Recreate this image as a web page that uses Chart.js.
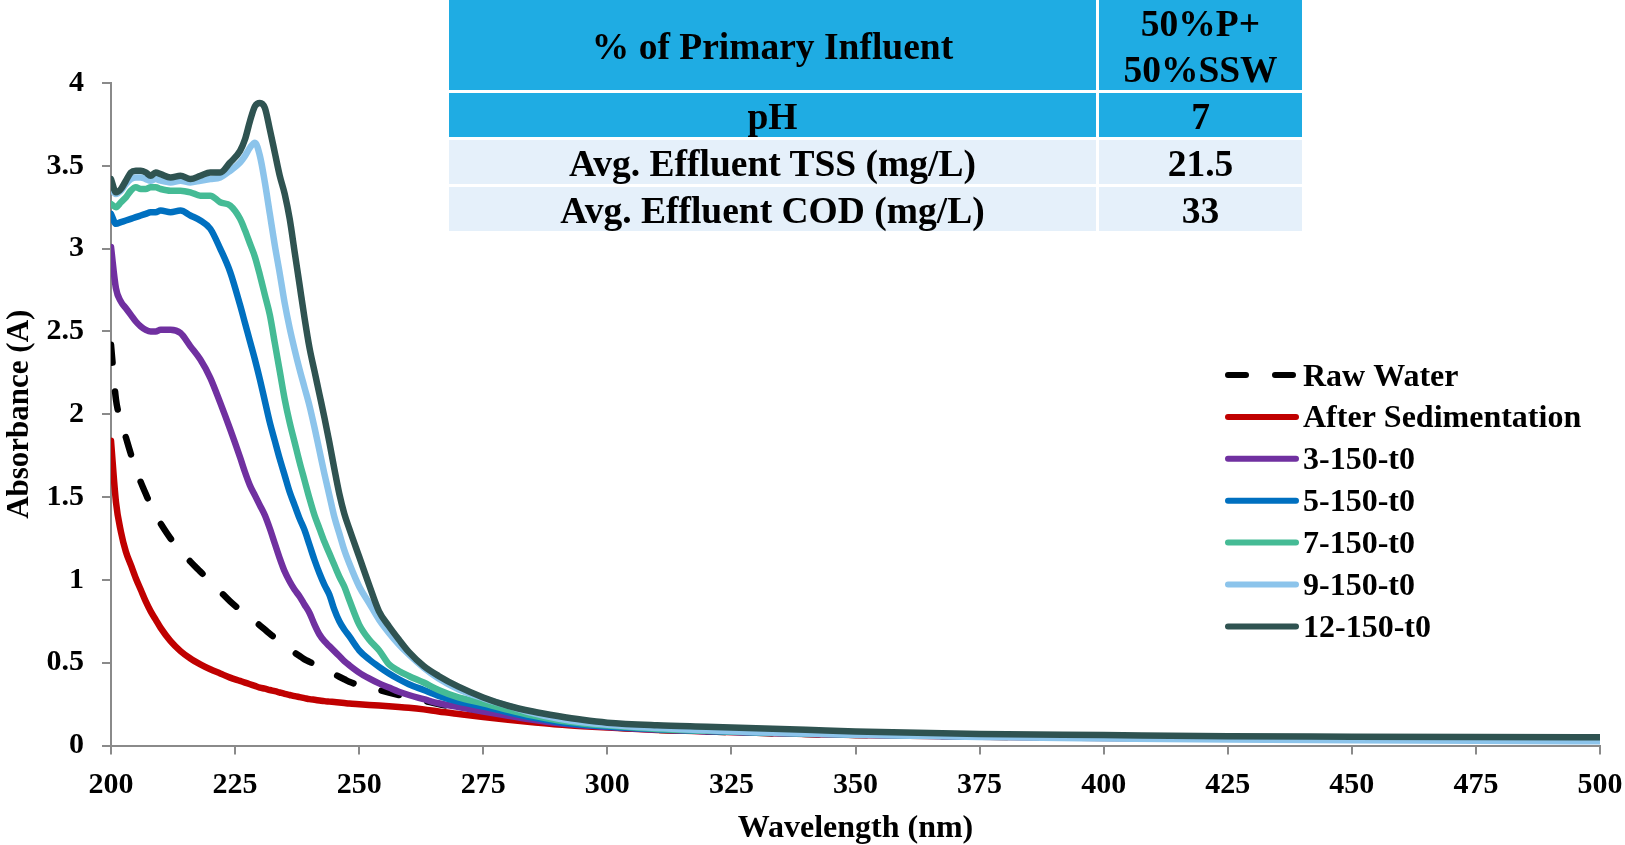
<!DOCTYPE html>
<html>
<head>
<meta charset="utf-8">
<title>UV absorbance spectra</title>
<script src="https://cdn.jsdelivr.net/npm/chart.js@4.4.1/dist/chart.umd.min.js"></script>
<style>
  html, body { margin: 0; padding: 0; background: #ffffff; }
  #wrap { position: relative; width: 1625px; height: 845px; overflow: hidden; }
  #chart { position: absolute; left: 0; top: 0; }
  #info {
    position: absolute; left: 449px; top: 0;
    display: grid;
    grid-template-columns: 647px 203px;
    grid-template-rows: 90px 44px 44px 44px;
    gap: 3px;
    font: bold 37.5px "Liberation Serif", "Times New Roman", serif;
    color: #000;
  }
  #info div {
    display: flex; align-items: center; justify-content: center;
    text-align: center; white-space: pre-line; line-height: 46px;
    padding-top: 3px; box-sizing: border-box;
  }
  #info .dark { background: #1FACE3; }
  #info .light { background: #E5F0FA; }
</style>
</head>
<body>
<div id="wrap">
  <canvas id="chart" width="1625" height="845"></canvas>
  <div id="info"></div>
</div>
<script>
// Wavelength grid (nm)
const wavelength = [200,201,202,203,204,205,206,207,208,209,210,
  212,214,216,218,220,222,224,226,
  227,228,229,230,231,232,233,234,235,236,237,238,239,240,241,242,243,244,245,246,247,248,
  250,252,254,256,258,260,
  263,266,270,275,280,285,290,295,300,
  310,320,330,340,350,
  375,400,425,450,475,500];

// Absorbance (A) for each sample
const rawWater = [2.42,2.09,1.96,1.86,1.76,1.67,1.59,1.52,1.45,1.39,1.34,
  1.25,1.18,1.11,1.05,0.99,0.93,0.87,0.82,
  0.80,0.775,0.75,0.725,0.70,0.675,0.65,0.625,0.60,0.58,0.56,0.54,0.52,0.505,0.49,0.475,0.46,0.445,0.43,0.415,0.40,0.385,
  0.365,0.35,0.335,0.32,0.305,0.29,
  0.27,0.25,0.225,0.20,0.175,0.15,0.133,0.12,0.11,
  0.095,0.085,0.077,0.07,0.064,
  0.053,0.046,0.041,0.038,0.036,0.035];

const afterSedimentation = [1.84,1.47,1.29,1.17,1.09,1.01,0.94,0.87,0.81,0.76,0.71,
  0.63,0.57,0.525,0.49,0.46,0.435,0.41,0.39,
  0.38,0.37,0.36,0.35,0.343,0.335,0.328,0.32,0.312,0.305,0.298,0.292,0.286,0.28,0.276,0.272,0.268,0.265,0.262,0.259,0.256,0.253,
  0.249,0.245,0.241,0.237,0.233,0.228,
  0.218,0.205,0.19,0.172,0.155,0.14,0.126,0.116,0.108,
  0.094,0.085,0.077,0.07,0.064,
  0.053,0.046,0.041,0.038,0.036,0.035];

const run3 = [3.01,2.76,2.68,2.64,2.60,2.56,2.53,2.51,2.50,2.50,2.51,
  2.51,2.49,2.41,2.33,2.22,2.07,1.91,1.74,
  1.65,1.57,1.51,1.45,1.39,1.31,1.22,1.13,1.05,0.99,0.94,0.90,0.85,0.80,0.73,0.67,0.63,0.60,0.57,0.54,0.51,0.485,
  0.44,0.405,0.375,0.35,0.325,0.305,
  0.28,0.255,0.232,0.205,0.18,0.155,0.135,0.122,0.112,
  0.096,0.086,0.078,0.071,0.065,
  0.054,0.047,0.042,0.039,0.037,0.036];

const run5 = [3.21,3.15,3.16,3.17,3.18,3.19,3.20,3.21,3.22,3.22,3.23,
  3.22,3.23,3.20,3.17,3.12,3.00,2.86,2.66,
  2.55,2.44,2.33,2.21,2.08,1.95,1.84,1.73,1.63,1.53,1.45,1.37,1.30,1.21,1.12,1.04,0.97,0.91,0.82,0.75,0.70,0.66,
  0.575,0.52,0.475,0.435,0.40,0.37,
  0.335,0.30,0.265,0.235,0.20,0.168,0.142,0.125,0.115,
  0.098,0.087,0.079,0.072,0.066,
  0.055,0.048,0.043,0.04,0.038,0.037];

const run7 = [3.27,3.25,3.28,3.31,3.35,3.37,3.36,3.36,3.37,3.37,3.36,
  3.35,3.35,3.34,3.32,3.32,3.28,3.26,3.18,
  3.11,3.03,2.95,2.84,2.72,2.60,2.43,2.26,2.09,1.95,1.83,1.71,1.60,1.49,1.39,1.31,1.23,1.16,1.09,1.02,0.96,0.88,
  0.73,0.64,0.575,0.49,0.45,0.42,
  0.38,0.335,0.29,0.255,0.215,0.18,0.152,0.133,0.12,
  0.10,0.089,0.08,0.073,0.067,
  0.056,0.049,0.044,0.041,0.039,0.038];

const run9 = [3.36,3.33,3.35,3.39,3.42,3.43,3.43,3.42,3.41,3.42,3.41,
  3.40,3.41,3.40,3.41,3.42,3.43,3.47,3.52,
  3.56,3.61,3.64,3.56,3.40,3.21,3.02,2.85,2.67,2.52,2.39,2.27,2.16,2.05,1.92,1.78,1.64,1.51,1.38,1.28,1.18,1.10,
  0.96,0.86,0.76,0.68,0.61,0.55,
  0.47,0.405,0.34,0.285,0.24,0.195,0.163,0.14,0.125,
  0.105,0.092,0.08,0.072,0.065,
  0.052,0.043,0.036,0.031,0.028,0.026];

const run12 = [3.42,3.34,3.36,3.41,3.46,3.47,3.47,3.46,3.44,3.46,3.45,
  3.43,3.44,3.42,3.44,3.46,3.46,3.52,3.59,
  3.66,3.77,3.86,3.88,3.85,3.72,3.58,3.44,3.33,3.18,2.98,2.78,2.58,2.40,2.26,2.12,1.98,1.83,1.67,1.52,1.40,1.31,
  1.14,0.97,0.81,0.72,0.64,0.565,
  0.48,0.42,0.355,0.29,0.24,0.205,0.178,0.155,0.138,
  0.122,0.113,0.104,0.095,0.085,
  0.07,0.063,0.056,0.053,0.051,0.05];

const seriesNames = ['Raw Water', 'After Sedimentation', '3-150-t0', '5-150-t0', '7-150-t0', '9-150-t0', '12-150-t0'];
const seriesValues = [rawWater, afterSedimentation, run3, run5, run7, run9, run12];

// Axis tick labels
const wavelengthTicks = ['200','225','250','275','300','325','350','375','400','425','450','475','500'];
const absorbanceTicks = ['0','0.5','1','1.5','2','2.5','3','3.5','4'];

// Summary table
const tableLabels = ['% of Primary Influent', 'pH', 'Avg. Effluent TSS (mg/L)', 'Avg. Effluent COD (mg/L)'];
const tableValues = ['50%P+\n50%SSW', '7', '21.5', '33'];

// ---- styling ----
const seriesColors = ['#000000', '#C00000', '#7030A0', '#0070C0', '#45BB95', '#8CC4EB', '#2F5351'];
const rawDash = [18, 29];
const lineWidth = 6.5;
const axisGray = '#8a8a8a';
const serif = '"Liberation Serif", "Times New Roman", serif';

// table
const info = document.getElementById('info');
tableLabels.forEach((label, i) => {
  const cls = i < 2 ? 'dark' : 'light';
  const a = document.createElement('div');
  a.className = cls; a.textContent = label;
  const b = document.createElement('div');
  b.className = cls; b.textContent = tableValues[i];
  info.appendChild(a); info.appendChild(b);
});

Chart.defaults.font.family = serif;
Chart.defaults.color = '#000';

const datasets = seriesNames.map((name, i) => ({
  label: name,
  data: wavelength.map((w, j) => ({ x: w, y: seriesValues[i][j] })),
  borderColor: seriesColors[i],
  backgroundColor: seriesColors[i],
  borderWidth: lineWidth,
  borderDash: i === 0 ? rawDash : [],
  borderCapStyle: 'round',
  borderJoinStyle: 'round',
  pointRadius: 0,
  fill: false,
  cubicInterpolationMode: 'monotone',
  order: seriesNames.length - i
}));

// legend drawn beside the curves, in series order
const sideLegend = {
  id: 'sideLegend',
  afterDraw(chart) {
    const ctx = chart.ctx;
    const x0 = 1228, x1 = 1296, textX = 1303, top = 375, step = 41.9;
    chart.data.datasets.forEach((ds, i) => {
      const y = top + i * step;
      ctx.save();
      ctx.strokeStyle = ds.borderColor;
      ctx.lineWidth = 6;
      ctx.lineCap = 'round';
      ctx.setLineDash(ds.borderDash || []);
      ctx.beginPath();
      ctx.moveTo(x0, y);
      ctx.lineTo(x1, y);
      ctx.stroke();
      ctx.setLineDash([]);
      ctx.fillStyle = '#000';
      ctx.font = 'bold 32px ' + serif;
      ctx.textAlign = 'left';
      ctx.textBaseline = 'alphabetic';
      ctx.fillText(ds.label, textX, y + 10.5);
      ctx.restore();
    });
  }
};

new Chart(document.getElementById('chart'), {
  type: 'line',
  data: { datasets },
  options: {
    responsive: false,
    devicePixelRatio: 1,
    animation: false,
    layout: { padding: { top: 83, right: 25, left: 0, bottom: 0 } },
    plugins: { legend: { display: false }, tooltip: { enabled: false } },
    scales: {
      x: {
        type: 'linear', min: 200, max: 500,
        afterFit(scale) {
          scale.height = 99.5;
          // the end label may overhang into the right margin
          scale.paddingRight = 25;
          scale.paddingLeft = 0;
        },
        ticks: {
          stepSize: 25, autoSkip: false, maxRotation: 0, padding: 13,
          color: '#000', font: { size: 30, weight: 'bold' },
          callback: (v, i) => wavelengthTicks[i]
        },
        grid: { display: true, drawOnChartArea: false, drawTicks: true, tickLength: 9, color: axisGray, lineWidth: 2 },
        border: { display: true, color: axisGray, width: 2 },
        title: { display: true, text: 'Wavelength (nm)', color: '#000', font: { size: 32, weight: 'bold', lineHeight: 0.8 }, padding: { top: 0, bottom: 3 } }
      },
      y: {
        type: 'linear', min: 0, max: 4,
        afterFit(scale) { scale.width = 111; },
        ticks: {
          stepSize: 0.5, padding: 18,
          color: '#000', font: { size: 30, weight: 'bold' },
          callback: (v, i) => absorbanceTicks[i]
        },
        grid: { display: true, drawOnChartArea: false, drawTicks: true, tickLength: 9, color: axisGray, lineWidth: 2 },
        border: { display: true, color: axisGray, width: 2 },
        title: { display: true, text: 'Absorbance (A)', color: '#000', font: { size: 31, weight: 'bold' }, padding: { top: 1, bottom: 0 } }
      }
    }
  },
  plugins: [sideLegend]
});
</script>
</body>
</html>
